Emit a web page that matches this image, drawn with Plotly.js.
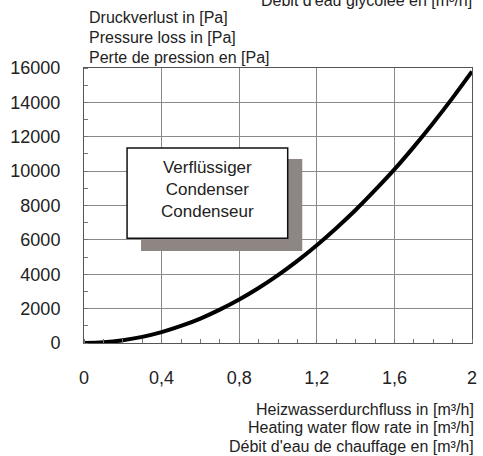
<!DOCTYPE html>
<html><head><meta charset="utf-8">
<script src="https://cdn.plot.ly/plotly-3.0.1.min.js"></script>
<style>body{margin:0;padding:0;background:#fff}#chart{width:483px;height:456px}</style>
</head><body><div id="chart"></div>
<script>
const flowRate = [0, 0.1, 0.2, 0.3, 0.4, 0.5, 0.6, 0.7, 0.8, 0.9, 1.0, 1.1, 1.2, 1.3, 1.4, 1.5, 1.6, 1.7, 1.8, 1.9, 2.0];
const pressureLoss = [0, 40, 160, 355, 630, 990, 1420, 1940, 2530, 3200, 3950, 4780, 5690, 6680, 7740, 8890, 10100, 11410, 12800, 14260, 15800];
const xTickVals = [0, 0.4, 0.8, 1.2, 1.6, 2];
const xTickText = ["0", "0,4", "0,8", "1,2", "1,6", "2"];
const yTickVals = [0, 2000, 4000, 6000, 8000, 10000, 12000, 14000, 16000];
const yTickText = ["0", "2000", "4000", "6000", "8000", "10000", "12000", "14000", "16000"];
const yTitleLines = ["Druckverlust in [Pa]", "Pressure loss in [Pa]", "Perte de pression en [Pa]"];
const xTitleLines = ["Heizwasserdurchfluss in [m³/h]", "Heating water flow rate in [m³/h]", "Débit d'eau de chauffage en [m³/h]"];
const topCutLabel = "Débit d'eau glycolée en [m³/h]";
const boxLines = ["Verflüssiger", "Condenser", "Condenseur"];

const font = "Liberation Sans, Arial, sans-serif";
const txt = "#222";

const annotations = [];
yTitleLines.forEach((t, i) => annotations.push({
  xref: 'paper', yref: 'paper', x: 0.007, y: 1, yshift: 51 - i * 20,
  xanchor: 'left', yanchor: 'middle', text: t, showarrow: false,
  font: {family: font, size: 16, color: txt}
}));
xTitleLines.forEach((t, i) => annotations.push({
  xref: 'paper', yref: 'paper', x: 1.01, y: 0, yshift: -66 - i * 18.5,
  xanchor: 'right', yanchor: 'middle', text: t, showarrow: false,
  font: {family: font, size: 16, color: txt}
}));
annotations.push({
  xref: 'paper', yref: 'paper', x: 1.005, y: 1, yshift: 68,
  xanchor: 'right', yanchor: 'middle', text: topCutLabel, showarrow: false,
  font: {family: font, size: 16, color: txt}
});
annotations.push({
  xref: 'x', yref: 'y', x: 0.635, y: 8950,
  xanchor: 'center', yanchor: 'middle', text: boxLines.join('<br>'), showarrow: false,
  font: {family: font, size: 17, color: txt}
});

const shapes = [
  {type: 'rect', xref: 'x', yref: 'y', x0: 0.294, x1: 1.125, y0: 5350, y1: 10700,
   fillcolor: '#8d8682', line: {width: 0}, layer: 'above'},
  {type: 'rect', xref: 'x', yref: 'y', x0: 0.222, x1: 1.05, y0: 6100, y1: 11350,
   fillcolor: '#ffffff', line: {color: '#111', width: 1.5}, layer: 'above'}
];

const trace = {
  x: flowRate, y: pressureLoss, type: 'scatter', mode: 'lines',
  line: {color: '#000', width: 4, shape: 'spline'}, hoverinfo: 'skip'
};

const layout = {
  width: 483, height: 456,
  margin: {l: 84, r: 11, t: 68, b: 113},
  paper_bgcolor: '#fff', plot_bgcolor: '#fff',
  showlegend: false,
  xaxis: {
    range: [0, 2], tickvals: xTickVals, ticktext: xTickText,
    showgrid: true, gridcolor: '#8a8a8a', gridwidth: 1,
    showline: true, linecolor: '#555', linewidth: 1, mirror: true,
    ticks: '', zeroline: false, ticklabelstandoff: 18,
    tickfont: {family: font, size: 18, color: txt},
    minor: {ticks: 'inside', dtick: 0.1, ticklen: 4, tickcolor: '#777', showgrid: false}
  },
  yaxis: {
    range: [0, 16000], tickvals: yTickVals, ticktext: yTickText,
    showgrid: true, gridcolor: '#8a8a8a', gridwidth: 1,
    showline: true, linecolor: '#555', linewidth: 1, mirror: true,
    ticks: '', zeroline: false, ticklabelstandoff: 19,
    tickfont: {family: font, size: 18, color: txt},
    minor: {ticks: 'inside', dtick: 1000, ticklen: 4, tickcolor: '#777', showgrid: false}
  },
  annotations: annotations,
  shapes: shapes
};

Plotly.newPlot('chart', [trace], layout, {displayModeBar: false, staticPlot: true});
</script></body></html>
